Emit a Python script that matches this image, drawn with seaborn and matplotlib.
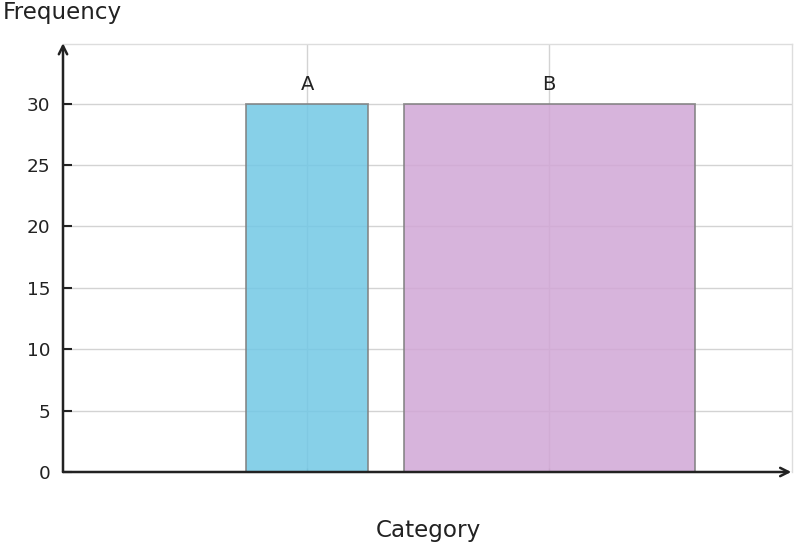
import matplotlib
matplotlib.use("Agg")
import matplotlib.pyplot as plt
import seaborn as sns
import pandas as pd

categories = ["A", "B"]
values = [30, 30]
centers = [3.35, 6.67]
widths = [1.67, 3.99]
colors = ["#72c8e5", "#d1a7d6"]

sns.set_theme(style="white")
plt.rcParams['font.family'] = ['DejaVu Sans']

df = pd.DataFrame({"x": centers, "y": values, "cat": categories})

fig = plt.figure(figsize=(7.96, 5.48), dpi=100)
ax = fig.add_axes([63/796, 1-472/548, (792-63)/796, (472-44)/548])

sns.barplot(data=df, x="x", y="y", hue="cat", palette=colors, native_scale=True,
            legend=False, ax=ax, alpha=0.85, edgecolor="#808080", linewidth=1.3,
            saturation=1, zorder=3)
for p, c, w in zip(ax.patches, centers, widths):
    p.set_x(c - w/2)
    p.set_width(w)

ax.set_xlim(0, 10)
ax.set_ylim(0, 34.85)
ax.set_yticks([0, 5, 10, 15, 20, 25, 30])
ax.set_xticks(centers)
ax.set_xticklabels([])
ax.grid(True, color="#d3d3d3", linewidth=1.0, zorder=0)
ax.set_axisbelow(True)
ax.tick_params(axis="y", left=True, direction="in", length=6.5, width=1.5, color="#222222",
               labelsize=13.3, pad=9, labelcolor="#222222")
ax.tick_params(axis="x", bottom=True, direction="in", length=3, width=1, color="#aaaaaa")

for s in ["top", "right"]:
    ax.spines[s].set_color("#dddddd")
    ax.spines[s].set_linewidth(1.0)
for s in ["left", "bottom"]:
    ax.spines[s].set_visible(False)

ax.annotate("", xy=(0, 1.002), xytext=(0, 0), xycoords="axes fraction",
            arrowprops=dict(arrowstyle="->", color="#222222", lw=1.8,
                            mutation_scale=15, shrinkA=0, shrinkB=0), annotation_clip=False)
ax.annotate("", xy=(0.999, 0), xytext=(0, 0), xycoords="axes fraction",
            arrowprops=dict(arrowstyle="->", color="#222222", lw=1.8,
                            mutation_scale=15, shrinkA=0, shrinkB=0), annotation_clip=False)

for c, v, cat in zip(centers, values, categories):
    ax.annotate(cat, xy=(c, v), xytext=(0, 7), textcoords="offset points",
                ha="center", va="bottom", fontsize=14, color="#222222")

ax.set_xlabel("")
ax.set_ylabel("")
fig.text(428/796, 1-531/548, "Category", ha="center", va="center", fontsize=16.6, color="#222222")
fig.text(3/796, 1-12/548, "Frequency", ha="left", va="center", fontsize=16.6, color="#222222")

fig.savefig("out.png", dpi=100)
